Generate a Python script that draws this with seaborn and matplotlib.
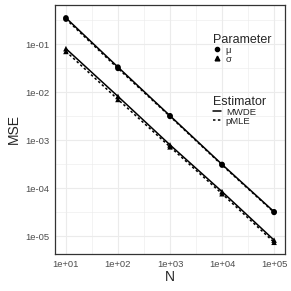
import numpy as np
import pandas as pd
import matplotlib
matplotlib.use("Agg")
import matplotlib.pyplot as plt
import seaborn as sns
from matplotlib.lines import Line2D
from matplotlib.ticker import FixedLocator, FuncFormatter

N = [10, 100, 1000, 10000, 100000]
mu_mwde = [0.35, 0.033, 0.0032, 0.00031, 3.2e-05]
mu_pmle = [0.33, 0.031, 0.0031, 0.00030, 3.1e-05]
sigma_mwde = [0.080, 0.0081, 0.00079, 8.4e-05, 8.2e-06]
sigma_pmle = [0.070, 0.0070, 0.00072, 7.6e-05, 7.4e-06]

rows = []
for par, est, vals in [("μ", "MWDE", mu_mwde), ("μ", "pMLE", mu_pmle),
                       ("σ", "MWDE", sigma_mwde), ("σ", "pMLE", sigma_pmle)]:
    for n, v in zip(N, vals):
        rows.append({"N": n, "MSE": v, "Parameter": par, "Estimator": est})
df = pd.DataFrame(rows)

sns.set_style("white")
plt.rcParams['font.family'] = ['Liberation Sans', 'DejaVu Sans']

W, H = 291, 291
fig = plt.figure(figsize=(W / 100, H / 100), dpi=100)
ax = fig.add_axes([55 / W, (H - 254) / H, (285 - 55) / W, (254 - 5) / H])

sns.lineplot(data=df, x="N", y="MSE", style="Estimator", units="Parameter",
             estimator=None, color="black", lw=1.1,
             dashes={"MWDE": "", "pMLE": (1.6, 1.6)}, ax=ax, legend=False)
sns.scatterplot(data=df, x="N", y="MSE", style="Parameter",
                markers={"μ": "o", "σ": "^"}, color="black", s=16,
                edgecolor="none", ax=ax, legend=False, zorder=3)

ax.set_xscale("log")
ax.set_yscale("log")
ax.set_xlim(10 ** 0.79, 10 ** 5.21)
ax.set_ylim(10 ** -5.375, 10 ** -0.1875)

ax.xaxis.set_major_locator(FixedLocator(N))
ax.yaxis.set_major_locator(FixedLocator([1e-1, 1e-2, 1e-3, 1e-4, 1e-5]))
ax.xaxis.set_minor_locator(FixedLocator([10 ** (k + 0.5) for k in range(0, 6)]))
ax.yaxis.set_minor_locator(FixedLocator([10 ** (-k + 0.5) for k in range(0, 7)]))

def fmt(v, pos):
    e = int(round(np.log10(v)))
    return "1e%s%02d" % ("+" if e >= 0 else "-", abs(e))

ax.xaxis.set_major_formatter(FuncFormatter(fmt))
ax.yaxis.set_major_formatter(FuncFormatter(fmt))
ax.xaxis.set_minor_formatter(FuncFormatter(lambda v, p: ""))
ax.yaxis.set_minor_formatter(FuncFormatter(lambda v, p: ""))

ax.grid(True, which="major", color="#EBEBEB", lw=0.8)
ax.grid(True, which="minor", color="#EBEBEB", lw=0.4)
ax.set_axisbelow(True)
for s in ax.spines.values():
    s.set_color("#333333")
    s.set_linewidth(0.9)

ax.tick_params(axis="both", which="major", length=2.5, width=0.6, color="#333333",
               labelsize=6.8, labelcolor="#4D4D4D", pad=1.5)
ax.tick_params(axis="both", which="minor", length=0)
ax.set_xlabel("N", fontsize=10, labelpad=1)
ax.set_ylabel("MSE", fontsize=10, labelpad=3)

h1 = [Line2D([], [], marker="o", color="black", ls="", markersize=3.0),
      Line2D([], [], marker="^", color="black", ls="", markersize=3.4)]
leg1 = ax.legend(h1, ["μ", "σ"], title="Parameter", loc="upper left",
                 bbox_to_anchor=(206 / W, 1 - 27 / H), bbox_transform=fig.transFigure,
                 frameon=False, fontsize=6.8, title_fontsize=9, handlelength=0.9,
                 handletextpad=0.5, labelspacing=0.0, borderpad=0.2)
leg1._legend_box.align = "left"
ax.add_artist(leg1)
h2 = [Line2D([], [], color="black", lw=1.1),
      Line2D([], [], color="black", lw=1.1, dashes=(1.6, 1.6))]
leg2 = ax.legend(h2, ["MWDE", "pMLE"], title="Estimator", loc="upper left",
                 bbox_to_anchor=(206 / W, 1 - 89 / H), bbox_transform=fig.transFigure,
                 frameon=False, fontsize=6.8, title_fontsize=9, handlelength=0.9,
                 handletextpad=0.5, labelspacing=0.0, borderpad=0.2)
leg2._legend_box.align = "left"

fig.savefig("out.png", dpi=100)
